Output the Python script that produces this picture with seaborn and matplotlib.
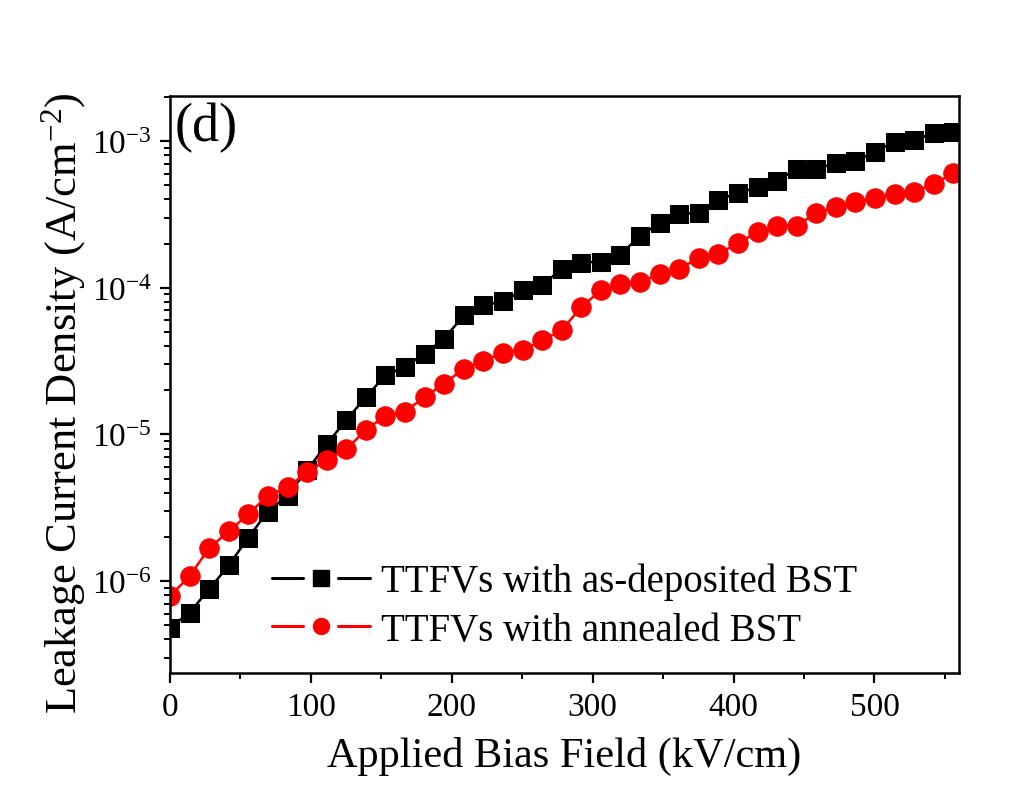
import matplotlib
matplotlib.use("Agg")
import matplotlib.pyplot as plt
import matplotlib.ticker as mticker
from matplotlib.lines import Line2D
from matplotlib.legend_handler import HandlerLine2D
import seaborn as sns
import pandas as pd

field = [0, 13.9, 27.8, 41.7, 55.6, 69.5, 83.4, 97.3, 111.2, 125.1, 139.0, 152.9, 166.8,
         180.7, 194.6, 208.5, 222.4, 236.3, 250.2, 264.1, 278.0, 291.9, 305.8, 319.7,
         333.6, 347.5, 361.4, 375.3, 389.2, 403.1, 417.0, 430.9, 444.8, 458.7, 472.6,
         486.5, 500.4, 514.3, 528.2, 542.1, 556.0]

as_deposited = [4.8e-7, 6.1e-7, 8.8e-7, 1.28e-6, 1.98e-6, 2.98e-6, 3.83e-6, 5.7e-6, 8.6e-6,
                1.25e-5, 1.80e-5, 2.53e-5, 2.89e-5, 3.56e-5, 4.50e-5, 6.48e-5, 7.58e-5,
                8.07e-5, 9.59e-5, 1.04e-4, 1.35e-4, 1.48e-4, 1.51e-4, 1.68e-4, 2.27e-4,
                2.75e-4, 3.19e-4, 3.24e-4, 3.97e-4, 4.43e-4, 4.84e-4, 5.37e-4, 6.45e-4,
                6.45e-4, 7.09e-4, 7.28e-4, 8.46e-4, 9.9e-4, 1.02e-3, 1.13e-3, 1.16e-3]

annealed = [7.9e-7, 1.08e-6, 1.68e-6, 2.18e-6, 2.86e-6, 3.83e-6, 4.36e-6, 5.51e-6, 6.69e-6,
            7.94e-6, 1.07e-5, 1.34e-5, 1.43e-5, 1.80e-5, 2.22e-5, 2.81e-5, 3.17e-5,
            3.60e-5, 3.74e-5, 4.38e-5, 5.13e-5, 7.39e-5, 9.59e-5, 1.06e-4, 1.09e-4,
            1.24e-4, 1.35e-4, 1.59e-4, 1.70e-4, 2.02e-4, 2.39e-4, 2.65e-4, 2.65e-4,
            3.24e-4, 3.57e-4, 3.83e-4, 4.10e-4, 4.36e-4, 4.52e-4, 5.10e-4, 6.06e-4]

series_labels = ["TTFVs with as-deposited BST", "TTFVs with annealed BST"]
x_ticks = [0, 100, 200, 300, 400, 500]
y_ticks = [1e-6, 1e-5, 1e-4, 1e-3]
y_tick_labels = ["10$^{-6}$", "10$^{-5}$", "10$^{-4}$", "10$^{-3}$"]

sns.set_theme(style="ticks")
plt.rcParams["font.family"] = ["Liberation Serif", "DejaVu Serif"]
plt.rcParams["mathtext.fontset"] = "custom"
plt.rcParams["mathtext.rm"] = "Liberation Serif"
plt.rcParams["mathtext.it"] = "Liberation Serif:italic"
for k in ["text.color", "axes.labelcolor", "xtick.color", "ytick.color", "axes.edgecolor"]:
    plt.rcParams[k] = "black"


class GapLineHandler(HandlerLine2D):
    """Origin-style legend handle: line segment, gap, marker, gap, line segment."""

    def create_artists(self, legend, orig_handle, xdescent, ydescent, width, height,
                       fontsize, trans):
        y = (height - ydescent) / 2.0
        x0 = -xdescent
        x1 = -xdescent + width
        xm = (x0 + x1) / 2.0
        gap = 0.18 * width
        left = Line2D([x0, xm - gap], [y, y])
        right = Line2D([xm + gap, x1], [y, y])
        mark = Line2D([xm], [y])
        for art in (left, right):
            art.set_color(orig_handle.get_color())
            art.set_linewidth(2.2)
            art.set_linestyle("-")
            art.set_marker("None")
            art.set_transform(trans)
        mark.set_marker(orig_handle.get_marker())
        mark.set_markersize(11.5)
        mark.set_markerfacecolor(orig_handle.get_markerfacecolor())
        mark.set_markeredgecolor(orig_handle.get_markeredgecolor())
        mark.set_linestyle("None")
        mark.set_transform(trans)
        return [left, right, mark]


fig = plt.figure(figsize=(10.34, 8.03), dpi=100)
ax = fig.add_axes([0.1644, 0.1606, 0.7631, 0.7186])

df1 = pd.DataFrame({"x": field, "y": as_deposited})
df2 = pd.DataFrame({"x": field, "y": annealed})

sns.lineplot(data=df1, x="x", y="y", ax=ax, color="black", marker="s", markersize=12.5,
             markeredgecolor="black", linewidth=1.8, label=series_labels[0])
sns.lineplot(data=df2, x="x", y="y", ax=ax, color="#ff0000", marker="o", markersize=14,
             markeredgecolor="#ff0000", linewidth=1.8, label=series_labels[1])

ax.set_yscale("log")
ax.set_xlim(0, 560)
ax.set_ylim(2.36e-7, 2.03e-3)

ax.set_xticks(x_ticks)
ax.xaxis.set_minor_locator(mticker.MultipleLocator(50))
ax.set_yticks(y_ticks)
ax.set_yticklabels(y_tick_labels)
ax.yaxis.set_minor_locator(mticker.LogLocator(base=10, subs=range(2, 10)))
ax.yaxis.set_minor_formatter(mticker.NullFormatter())

ax.tick_params(axis="both", which="major", direction="out", length=7, width=1.6,
               labelsize=24, colors="black", pad=6)
ax.tick_params(axis="both", which="minor", direction="out", length=4, width=1.4)
for s in ax.spines.values():
    s.set_linewidth(1.8)
    s.set_color("black")

ax.set_xlabel("Applied Bias Field (kV/cm)", fontsize=30.5, labelpad=10)
ax.set_ylabel("Leakage Current Density (A/cm$^{-2}$)", fontsize=32)
ax.yaxis.set_label_coords(-0.104, 0.469)

ax.text(0.006, 0.99, "(d)", transform=ax.transAxes, fontsize=39, va="top", ha="left")

handles, labels = ax.get_legend_handles_labels()
leg = ax.legend(handles, labels, loc="lower left", bbox_to_anchor=(0.110, 0.015),
                frameon=False, fontsize=28, handlelength=2.5, handletextpad=0.3,
                labelspacing=0.3, borderaxespad=0,
                handler_map={Line2D: GapLineHandler()})
for t in leg.get_texts():
    t.set_color("black")

ax.set_facecolor("white")
fig.patch.set_facecolor("white")
fig.savefig("out.png", dpi=100, facecolor="white")
